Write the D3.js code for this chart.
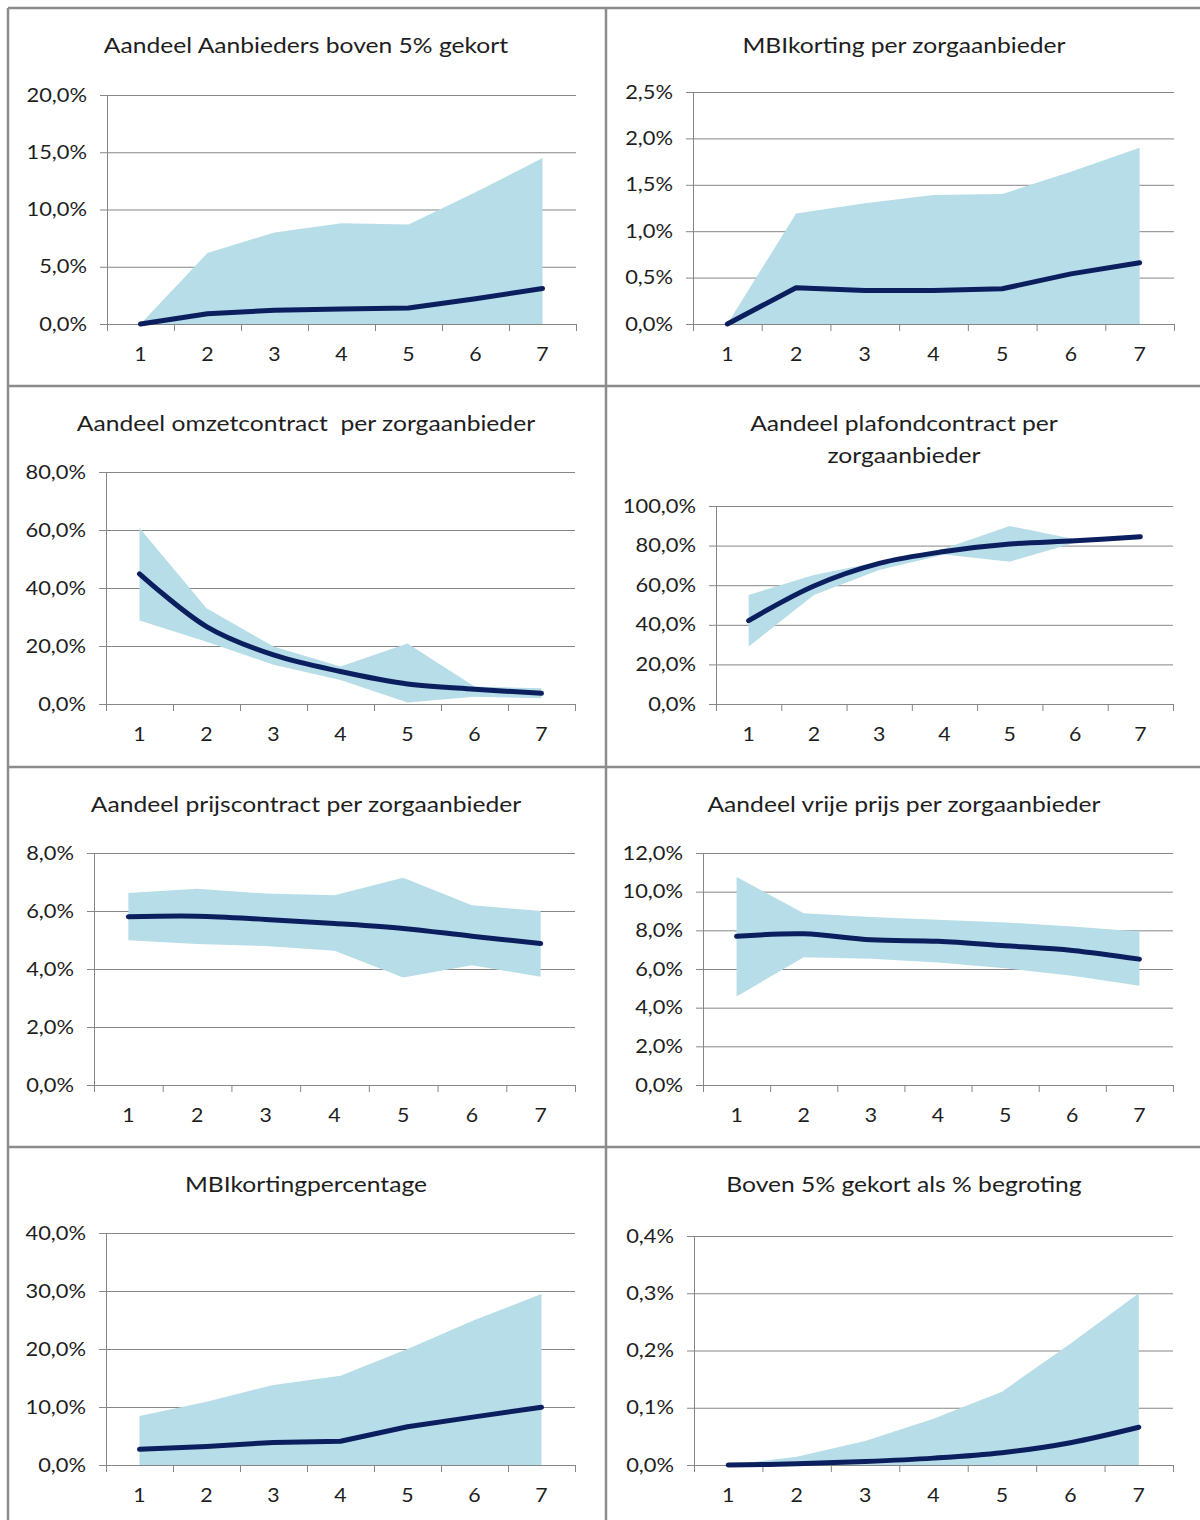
<!DOCTYPE html>
<html lang="nl">
<head>
<meta charset="UTF-8">
<title>MBI korting</title>
<script src="https://cdn.jsdelivr.net/npm/d3@7"></script>
<style>
  body { margin: 0; background: #fff; }
  text { font-family: Lato, "Liberation Sans", sans-serif; fill: #1e1e1e; }
</style>
</head>
<body>
<svg width="1200" height="1520"></svg>
<script>
// categorieen (x-as)
const categories = [1, 2, 3, 4, 5, 6, 7];

// titels van de grafieken
const titles = [
  "Aandeel Aanbieders boven 5% gekort",
  "MBIkorting per zorgaanbieder",
  "Aandeel omzetcontract  per zorgaanbieder",
  "Aandeel plafondcontract per|zorgaanbieder",
  "Aandeel prijscontract per zorgaanbieder",
  "Aandeel vrije prijs per zorgaanbieder",
  "MBIkortingpercentage",
  "Boven 5% gekort als % begroting"
];

// y-as schaal (max en stap), in procenten
const yMax  = [20, 2.5, 80, 100, 8, 12, 40, 0.4];
const yStep = [5, 0.5, 20, 20, 2, 2, 10, 0.1];

// reeksen: onder- en bovengrens van de band, en de middenlijn (in %)
const gekortLow  = [0, 0, 0, 0, 0, 0, 0];
const gekortHigh = [0, 6.2, 8.0, 8.8, 8.7, 11.5, 14.5];
const gekortMid  = [0, 0.9, 1.2, 1.3, 1.4, 2.2, 3.1];

const kortingLow  = [0, 0, 0, 0, 0, 0, 0];
const kortingHigh = [0, 1.19, 1.30, 1.39, 1.40, 1.64, 1.90];
const kortingMid  = [0, 0.39, 0.36, 0.36, 0.38, 0.54, 0.66];

const omzetLow  = [28.8, 21.5, 13.5, 8.3, 0.5, 2.5, 2.0];
const omzetHigh = [60.7, 33.0, 19.8, 12.9, 20.9, 6.0, 5.4];
const omzetMid  = [44.9, 26.7, 16.9, 11.2, 6.9, 5.1, 3.7];

const plafondLow  = [29.0, 55.0, 67.7, 75.5, 71.9, 81.5, 83.7];
const plafondHigh = [55.1, 65.2, 71.9, 78.5, 89.9, 83.2, 85.4];
const plafondMid  = [42.1, 59.6, 71.0, 77.0, 80.8, 82.4, 84.5];

const prijsLow  = [4.99, 4.86, 4.79, 4.63, 3.71, 4.13, 3.73];
const prijsHigh = [6.62, 6.77, 6.60, 6.54, 7.15, 6.20, 6.00];
const prijsMid  = [5.80, 5.82, 5.71, 5.57, 5.40, 5.13, 4.88];

const vrijLow  = [4.58, 6.61, 6.53, 6.34, 6.04, 5.65, 5.13];
const vrijHigh = [10.76, 8.89, 8.69, 8.55, 8.41, 8.20, 7.94];
const vrijMid  = [7.69, 7.82, 7.51, 7.43, 7.20, 6.96, 6.51];

const percLow  = [0, 0, 0, 0, 0, 0, 0];
const percHigh = [8.46, 10.9, 13.8, 15.4, 20.0, 25.0, 29.5];
const percMid  = [2.7, 3.2, 3.9, 4.1, 6.6, 8.3, 9.96];

const begrLow  = [0, 0, 0, 0, 0, 0, 0];
const begrHigh = [0, 0.0145, 0.042, 0.081, 0.128, 0.212, 0.30];
const begrMid  = [0, 0.002, 0.006, 0.012, 0.0215, 0.039, 0.066];

const lows  = [gekortLow, kortingLow, omzetLow, plafondLow, prijsLow, vrijLow, percLow, begrLow];
const highs = [gekortHigh, kortingHigh, omzetHigh, plafondHigh, prijsHigh, vrijHigh, percHigh, begrHigh];
const mids  = [gekortMid, kortingMid, omzetMid, plafondMid, prijsMid, vrijMid, percMid, begrMid];

// opmaak van de panelen
const colX = [8, 606];
const rowY = [8, 386, 767, 1147];
const plots = [ // left, right, top, bottom binnen het paneel
  [99, 568, 87, 316],
  [87, 568, 84, 316],
  [98, 567, 86, 318],
  [110, 567, 120, 318],
  [86, 567, 86, 318],
  [97, 567, 86, 318],
  [98, 567, 86, 318],
  [88, 567, 89, 318]
];
const smooth = [false, false, true, true, true, true, false, true];

const nl = d3.formatLocale({decimal: ",", thousands: ".", grouping: [3], currency: ["€ ", ""]});
const fmt = d => nl.format(".1f")(d) + "%";

const bandColor = "#b7dde8";
const lineColor = "#0b1f5e";
const gridColor = "#868686";

// tekst iets breder trekken, zoals in het origineel
function stretch(sel, f) {
  sel.each(function() {
    const w = this.getComputedTextLength();
    d3.select(this).attr("textLength", w * f).attr("lengthAdjust", "spacingAndGlyphs");
  });
}

const svg = d3.select("svg");

titles.forEach(function(title, i) {
  const col = i % 2, row = Math.floor(i / 2);
  const p = plots[i];
  const g = svg.append("g")
      .attr("transform", "translate(" + colX[col] + "," + rowY[row] + ")");

  // titel
  title.split("|").forEach(function(t, k) {
    g.append("text")
        .attr("x", 298)
        .attr("y", 37 + k * 32)
        .attr("dy", "0.35em")
        .attr("text-anchor", "middle")
        .style("font-size", "22px")
        .style("white-space", "pre")
        .text(t)
        .call(stretch, 1.12);
  });

  const x = d3.scaleBand().domain(categories).range([p[0], p[1]]);
  const xEdge = d3.scaleLinear().domain([0, categories.length]).range([p[0], p[1]]);
  const y = d3.scaleLinear().domain([0, yMax[i]]).range([p[3], p[2]]);
  const yTicks = d3.range(0, yMax[i] + yStep[i] / 2, yStep[i]);

  // rasterlijnen
  g.append("g")
      .attr("transform", "translate(" + p[0] + ",0)")
      .call(d3.axisLeft(y).tickValues(yTicks).tickSize(-(p[1] - p[0])).tickFormat(""))
      .call(s => s.select(".domain").remove())
      .call(s => s.selectAll("line").attr("stroke", gridColor));

  const cx = d => x(d) + x.bandwidth() / 2;
  const rows = categories.map((c, j) => ({c: c, lo: lows[i][j], hi: highs[i][j], mid: mids[i][j]}));

  // band
  g.append("path")
      .datum(rows)
      .attr("fill", bandColor)
      .attr("d", d3.area().x(d => cx(d.c)).y0(d => y(d.lo)).y1(d => y(d.hi)));

  // y-as
  g.append("g")
      .attr("transform", "translate(" + p[0] + ",0)")
      .call(d3.axisLeft(y).tickValues(yTicks).tickSize(7).tickPadding(13).tickFormat(fmt))
      .call(s => s.selectAll("line, path").attr("stroke", gridColor))
      .call(s => s.selectAll("text").style("font-size", "19px").attr("fill", "#1e1e1e").call(stretch, 1.15));

  // x-as met streepjes tussen de categorieen
  g.append("g")
      .attr("transform", "translate(0," + p[3] + ")")
      .call(d3.axisBottom(xEdge).tickValues(d3.range(0, categories.length + 1)).tickSize(7).tickFormat(""))
      .call(s => s.selectAll("line, path").attr("stroke", gridColor));
  g.append("g")
      .attr("transform", "translate(0," + p[3] + ")")
      .call(d3.axisBottom(x).tickSize(0).tickPadding(24))
      .call(s => s.select(".domain").remove())
      .call(s => s.selectAll("text").style("font-size", "19px").attr("fill", "#1e1e1e").call(stretch, 1.12));

  // middenlijn
  g.append("path")
      .datum(rows)
      .attr("fill", "none")
      .attr("stroke", lineColor)
      .attr("stroke-width", 5)
      .attr("stroke-linecap", "round")
      .attr("stroke-linejoin", "round")
      .attr("d", d3.line().x(d => cx(d.c)).y(d => y(d.mid))
          .curve(smooth[i] ? d3.curveCatmullRom.alpha(0.5) : d3.curveLinear));
});

// kaders tussen de panelen
const frame = svg.append("g").attr("stroke", "#8c8c8c").attr("stroke-width", 2.5);
colX.forEach(xv => frame.append("line").attr("x1", xv).attr("x2", xv).attr("y1", 8).attr("y2", 1520));
rowY.forEach(yv => frame.append("line").attr("x1", 8).attr("x2", 1200).attr("y1", yv).attr("y2", yv));
</script>
</body>
</html>
